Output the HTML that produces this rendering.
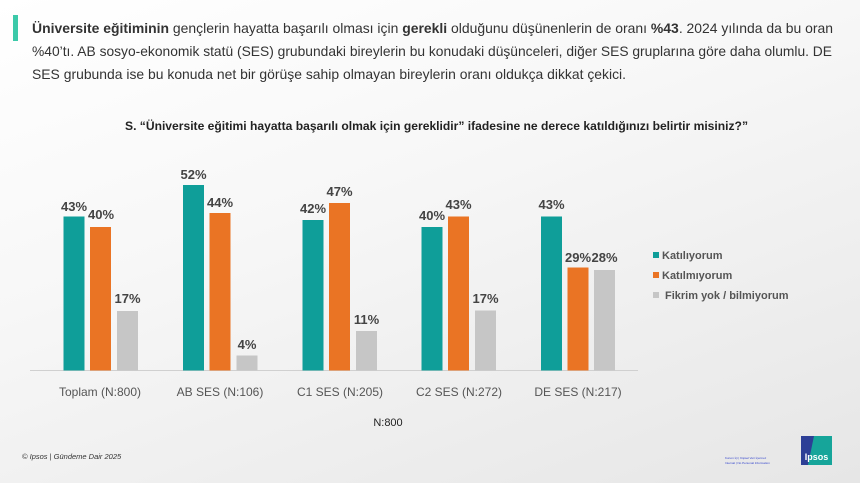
<!DOCTYPE html>
<html><head><meta charset="utf-8"><style>
body{margin:0;width:860px;height:483px;overflow:hidden;background:linear-gradient(160deg,#ffffff 0%,#f7f7f7 40%,#e6e6e6 100%);font-family:"Liberation Sans",sans-serif;}
.bar{position:absolute;left:13px;top:15px;width:5px;height:26px;background:#3cc9a9;}
</style></head><body>
<div class="bar"></div>
<svg width="860" height="483" style="position:absolute;left:0;top:0" font-family="Liberation Sans, sans-serif">
<g font-size="14" fill="#333">
<text x="32" y="33" textLength="801" lengthAdjust="spacingAndGlyphs"><tspan font-weight="bold">Üniversite eğitiminin</tspan> gençlerin hayatta başarılı olması için <tspan font-weight="bold">gerekli</tspan> olduğunu düşünenlerin de oranı <tspan font-weight="bold">%43</tspan>. 2024 yılında da bu oran</text>
<text x="32" y="56" textLength="800" lengthAdjust="spacingAndGlyphs">%40’tı. AB sosyo-ekonomik statü (SES) grubundaki bireylerin bu konudaki düşünceleri, diğer SES gruplarına göre daha olumlu. DE</text>
<text x="32" y="79" textLength="594" lengthAdjust="spacingAndGlyphs">SES grubunda ise bu konuda net bir görüşe sahip olmayan bireylerin oranı oldukça dikkat çekici.</text>
</g>
<text x="125" y="130" textLength="623" lengthAdjust="spacingAndGlyphs" font-size="11.5" font-weight="bold" fill="#222">S. “Üniversite eğitimi hayatta başarılı olmak için gereklidir” ifadesine ne derece katıldığınızı belirtir misiniz?”</text>
<line x1="30" y1="370.5" x2="638" y2="370.5" stroke="#d0d0d0" stroke-width="1"/>
<g font-size="13" font-weight="bold" fill="#444" text-anchor="middle">
<rect x="63.5" y="216.5" width="21" height="154" fill="#0f9e99"/><text x="74" y="211">43%</text>
<rect x="90" y="227" width="21" height="143.5" fill="#ea7424"/><text x="101" y="219">40%</text>
<rect x="117" y="311" width="21" height="59.5" fill="#c6c6c6"/><text x="127.5" y="303">17%</text>
<rect x="183" y="185" width="21" height="185.5" fill="#0f9e99"/><text x="193.5" y="179">52%</text>
<rect x="209.5" y="213" width="21" height="157.5" fill="#ea7424"/><text x="220" y="207">44%</text>
<rect x="236.5" y="355.5" width="21" height="15" fill="#c6c6c6"/><text x="247" y="349">4%</text>
<rect x="302.5" y="220" width="21" height="150.5" fill="#0f9e99"/><text x="313" y="213">42%</text>
<rect x="329" y="203" width="21" height="167.5" fill="#ea7424"/><text x="339.5" y="196">47%</text>
<rect x="356" y="331" width="21" height="39.5" fill="#c6c6c6"/><text x="366.5" y="324">11%</text>
<rect x="421.5" y="227" width="21" height="143.5" fill="#0f9e99"/><text x="432" y="220">40%</text>
<rect x="448" y="216.5" width="21" height="154" fill="#ea7424"/><text x="458.5" y="209">43%</text>
<rect x="475" y="310.5" width="21" height="60" fill="#c6c6c6"/><text x="485.5" y="303">17%</text>
<rect x="541" y="216.5" width="21" height="154" fill="#0f9e99"/><text x="551.5" y="209">43%</text>
<rect x="567.5" y="267.5" width="21" height="103" fill="#ea7424"/><text x="578" y="262">29%</text>
<rect x="594" y="270" width="21" height="100.5" fill="#c6c6c6"/><text x="604.5" y="262">28%</text>
</g>
<g font-size="12" fill="#555" text-anchor="middle">
<text x="100" y="396">Toplam (N:800)</text>
<text x="220" y="396">AB SES (N:106)</text>
<text x="340" y="396">C1 SES (N:205)</text>
<text x="459" y="396">C2 SES (N:272)</text>
<text x="578" y="396">DE SES (N:217)</text>
</g>
<text x="388" y="426" text-anchor="middle" font-size="11" fill="#222">N:800</text>
<g font-size="11" font-weight="bold" fill="#555">
<rect x="653" y="252" width="6" height="6" fill="#0f9e99"/><text x="662" y="259">Katılıyorum</text>
<rect x="653" y="272" width="6" height="6" fill="#ea7424"/><text x="662" y="279">Katılmıyorum</text>
<rect x="653" y="292" width="6" height="6" fill="#c6c6c6"/><text x="665" y="299">Fikrim yok / bilmiyorum</text>
</g>
<text x="22" y="459" font-size="7.5" font-style="italic" fill="#333">© Ipsos | Gündeme Dair 2025</text>
<text x="725" y="459" font-size="3" fill="#3344cc">Kurum İçi | Kişisel Veri İçermez</text>
<text x="725" y="464" font-size="3" fill="#3344cc">Internal | No Personal Information</text>
<rect x="801" y="436" width="31" height="29" fill="#2d3f96"/>
<path d="M814 436 H832 V465 H808 Z" fill="#16a59a"/>
<text x="816.5" y="460" text-anchor="middle" font-size="9" font-weight="bold" fill="#fff">Ipsos</text>
</svg>
</body></html>
